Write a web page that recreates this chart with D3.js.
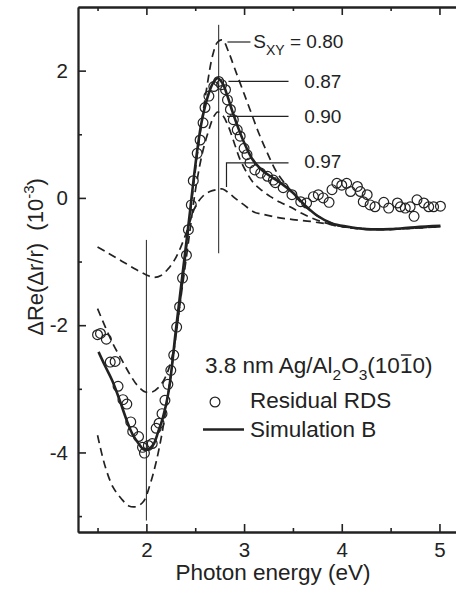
<!DOCTYPE html>
<html>
<head>
<meta charset="utf-8">
<script src="https://cdn.jsdelivr.net/npm/d3@7"></script>
<style>
  body { margin: 0; background: #fff; }
  svg text { font-family: "Liberation Sans", Arial, sans-serif; fill: #222; }
</style>
</head>
<body>
<div id="chart"></div>
<script>
// Residual RDS (open circles)
const energyRDS = [1.50,1.53,1.59,1.63,1.68,1.71,1.76,1.80,1.84,1.86,1.92,1.96,1.98,2.02,2.06,2.10,2.13,2.16,2.19,2.22,
  2.25,2.28,2.31,2.34,2.37,2.41,2.43,2.46,2.48,2.52,2.55,2.58,2.60,2.64,2.69,2.74,2.77,2.81,2.83,2.86,
  2.89,2.93,2.96,3.00,3.03,3.06,3.11,3.17,3.24,3.30,3.32,3.40,3.49,3.58,3.64,3.71,3.76,3.81,3.87,3.90,
  3.95,4.00,4.05,4.09,4.16,4.19,4.22,4.26,4.29,4.34,4.43,4.48,4.57,4.60,4.65,4.70,4.74,4.77,4.84,4.89,4.94,5.01];
const residualRDS = [-2.15,-2.13,-2.22,-2.58,-2.57,-2.96,-3.17,-3.24,-3.52,-3.67,-3.75,-3.92,-4.01,-3.89,-3.86,-3.62,-3.54,-3.39,-3.18,-2.93,
  -2.71,-2.47,-2.03,-1.71,-1.26,-0.90,-0.50,-0.11,0.27,0.70,0.91,1.18,1.42,1.60,1.75,1.83,1.78,1.70,1.54,1.39,
  1.23,1.07,0.97,0.78,0.68,0.55,0.44,0.39,0.34,0.28,0.24,0.16,0.05,-0.06,-0.08,0.02,0.05,0.00,-0.07,0.13,
  0.23,0.20,0.23,0.10,0.18,0.10,-0.06,0.05,-0.11,-0.14,-0.07,-0.16,-0.08,-0.14,-0.16,-0.14,-0.29,-0.03,-0.08,-0.14,-0.14,-0.13];

// Simulation B, S_XY = 0.87 (solid)
const energySim087 = [1.51,1.58,1.65,1.72,1.80,1.86,1.92,1.97,2.02,2.07,2.12,2.17,2.23,2.30,2.37,2.44,2.50,2.56,2.62,2.68,
  2.73,2.78,2.83,2.88,2.94,3.00,3.08,3.16,3.25,3.37,3.50,3.62,3.75,3.90,4.05,4.25,4.50,4.75,5.01];
const sim087 = [-2.42,-2.65,-2.87,-3.15,-3.50,-3.72,-3.86,-3.95,-3.95,-3.88,-3.68,-3.45,-3.02,-2.10,-1.20,-0.30,0.50,1.15,1.55,1.80,
  1.88,1.80,1.60,1.36,1.10,0.87,0.62,0.47,0.36,0.24,0.08,-0.11,-0.28,-0.40,-0.45,-0.49,-0.49,-0.46,-0.44];

// S_XY = 0.80 (dashed)
const energySim080 = [1.50,1.58,1.66,1.74,1.82,1.90,1.97,2.04,2.10,2.16,2.22,2.30,2.38,2.46,2.54,2.62,2.68,2.73,2.78,2.84,
  2.90,2.98,3.06,3.15,3.24,3.34,3.47,3.60,3.75,3.90,4.10,4.40,4.70,5.01];
const sim080 = [-3.73,-4.23,-4.55,-4.72,-4.84,-4.85,-4.77,-4.49,-4.15,-3.70,-3.10,-2.20,-1.20,-0.10,0.90,1.75,2.25,2.45,2.48,2.30,
  2.05,1.72,1.39,1.02,0.70,0.39,0.13,-0.10,-0.28,-0.40,-0.47,-0.50,-0.48,-0.45];

// S_XY = 0.90 (dashed)
const energySim090 = [1.50,1.58,1.66,1.75,1.83,1.91,1.99,2.06,2.13,2.20,2.27,2.35,2.43,2.51,2.58,2.64,2.69,2.73,2.78,2.84,
  2.90,2.96,3.03,3.10,3.18,3.27,3.37,3.47,3.60,3.75,3.90,4.10,4.40,4.70,5.01];
const sim090 = [-1.74,-2.03,-2.30,-2.55,-2.77,-2.95,-3.05,-3.05,-2.97,-2.80,-2.45,-1.60,-0.70,0.20,0.75,1.07,1.28,1.35,1.30,1.12,
  0.86,0.60,0.39,0.23,0.12,0.02,-0.07,-0.14,-0.25,-0.35,-0.42,-0.47,-0.49,-0.47,-0.45];

// S_XY = 0.97 (dashed)
const energySim097 = [1.50,1.60,1.70,1.80,1.90,2.00,2.08,2.15,2.22,2.29,2.35,2.42,2.50,2.58,2.65,2.72,2.78,2.85,2.92,3.00,
  3.10,3.20,3.35,3.50,3.68,3.85,4.00,4.20,4.50,4.80,5.01];
const sim097 = [-0.77,-0.86,-0.95,-1.04,-1.13,-1.21,-1.25,-1.22,-1.12,-0.97,-0.78,-0.50,-0.14,0.03,0.10,0.13,0.14,0.07,-0.02,-0.11,
  -0.22,-0.26,-0.31,-0.34,-0.37,-0.41,-0.45,-0.48,-0.49,-0.47,-0.45];

// vertical guide lines
const guideEnergy = [2.00, 2.74];
const guideTop = [-0.66, 2.72];
const guideBottom = [-5.07, -0.87];

const xTicks = [2, 3, 4, 5];
const xMinorTicks = [1.5, 2.5, 3.5, 4.5];
const yTicks = [-4, -2, 0, 2];
const yMinorTicks = [-5, -3, -1, 1];

const W = 456, H = 593;
const margin = { top: 7, right: -3, bottom: 61, left: 78 };
const ink = "#222";

const x = d3.scaleLinear().domain([1.3, 5.2]).range([margin.left, W - margin.right]);
const y = d3.scaleLinear().domain([-5.25, 3.0]).range([H - margin.bottom, margin.top]);

const svg = d3.select("#chart").append("svg")
  .attr("width", W)
  .attr("height", H);

const zip = (xs, ys) => xs.map((e, i) => [e, ys[i]]);
const line = d3.line()
  .x(d => x(d[0]))
  .y(d => y(d[1]))
  .curve(d3.curveCatmullRom.alpha(0.5));

// guide lines
guideEnergy.forEach((e, i) => {
  svg.append("line")
    .attr("x1", x(e)).attr("x2", x(e))
    .attr("y1", y(guideTop[i])).attr("y2", y(guideBottom[i]))
    .attr("stroke", ink).attr("stroke-width", 1);
});

// dashed simulations
[[energySim080, sim080], [energySim090, sim090], [energySim097, sim097]].forEach(s => {
  svg.append("path")
    .datum(zip(s[0], s[1]))
    .attr("d", line)
    .attr("fill", "none")
    .attr("stroke", ink)
    .attr("stroke-width", 1.7)
    .attr("stroke-dasharray", "8,5");
});

// residual RDS circles
svg.append("g")
  .selectAll("circle")
  .data(zip(energyRDS, residualRDS))
  .enter().append("circle")
  .attr("cx", d => x(d[0]))
  .attr("cy", d => y(d[1]))
  .attr("r", 4.9)
  .attr("fill", "none")
  .attr("stroke", ink)
  .attr("stroke-width", 1.2);

// Simulation B
svg.append("path")
  .datum(zip(energySim087, sim087))
  .attr("d", line)
  .attr("fill", "none")
  .attr("stroke", ink)
  .attr("stroke-width", 2.6);

// axes
const axisBottom = d3.axisBottom(x).tickValues(xTicks).tickSize(-8).tickSizeOuter(0).tickPadding(10).tickFormat(d3.format("d"));
const axisTop = d3.axisTop(x).tickValues(xTicks).tickSize(-8).tickSizeOuter(0).tickFormat("");
const axisLeft = d3.axisLeft(y).tickValues(yTicks).tickSize(-8).tickSizeOuter(0).tickPadding(10).tickFormat(d => d < 0 ? "-" + Math.abs(d) : d);

const gB = svg.append("g").attr("transform", "translate(0," + y.range()[0] + ")").call(axisBottom);
gB.append("g").call(d3.axisBottom(x).tickValues(xMinorTicks).tickSize(-4).tickSizeOuter(0).tickFormat(""));
const gT = svg.append("g").attr("transform", "translate(0," + y.range()[1] + ")").call(axisTop);
gT.append("g").call(d3.axisTop(x).tickValues(xMinorTicks).tickSize(-4).tickSizeOuter(0).tickFormat(""));
const gL = svg.append("g").attr("transform", "translate(" + x.range()[0] + ",0)").call(axisLeft);
gL.append("g").call(d3.axisLeft(y).tickValues(yMinorTicks).tickSize(-4).tickSizeOuter(0).tickFormat(""));

svg.selectAll(".domain").attr("stroke", ink).attr("stroke-width", 1.8);
svg.selectAll(".tick line").attr("stroke", ink).attr("stroke-width", 1.6);
svg.selectAll(".tick text").attr("font-size", 20.5).attr("font-family", "Liberation Sans, Arial, sans-serif").attr("fill", ink);

// axis titles
svg.append("text")
  .attr("x", 273).attr("y", 580)
  .attr("text-anchor", "middle")
  .attr("font-size", 22.5)
  .text("Photon energy (eV)");

const yTitle = svg.append("text")
  .attr("transform", "translate(43,257) rotate(-90)")
  .attr("text-anchor", "middle")
  .attr("font-size", 22);
yTitle.append("tspan").text("\u0394Re(\u0394r/r)\u00a0\u00a0(10");
yTitle.append("tspan").attr("font-size", 15).attr("dy", -9).text("-3");
yTitle.append("tspan").attr("dy", 9).text(")");

// S_XY pointers
const pointers = [
  [[2.83, 2.45], [3.065, 2.45]],
  [[2.84, 1.83], [3.455, 1.83]],
  [[2.826, 1.28], [3.455, 1.28]],
  [[2.82, 0.17], [2.82, 0.55], [3.455, 0.55]]
];
pointers.forEach(p => {
  svg.append("path")
    .datum(p)
    .attr("d", d3.line().x(d => x(d[0])).y(d => y(d[1])))
    .attr("fill", "none")
    .attr("stroke", ink)
    .attr("stroke-width", 1.2);
});

const sLabel = svg.append("text")
  .attr("x", x(3.095)).attr("y", y(2.36))
  .attr("font-size", 19);
sLabel.append("tspan").text("S");
sLabel.append("tspan").attr("font-size", 14).attr("dy", 7).text("XY");
sLabel.append("tspan").attr("dy", -7).text(" = 0.80");

[["0.87", 1.73], ["0.90", 1.18], ["0.97", 0.47]].forEach(l => {
  svg.append("text")
    .attr("x", x(3.617)).attr("y", y(l[1]))
    .attr("font-size", 19)
    .text(l[0]);
});

// legend
const title = svg.append("text")
  .attr("x", 205).attr("y", 373)
  .attr("font-size", 22.5);
title.append("tspan").text("3.8 nm Ag/Al");
title.append("tspan").attr("font-size", 15.5).attr("dy", 7).text("2");
title.append("tspan").attr("dy", -7).text("O");
title.append("tspan").attr("font-size", 15.5).attr("dy", 7).text("3");
title.append("tspan").attr("dy", -7).text("(10");
const bar1 = title.append("tspan").text("1");
title.append("tspan").text("0)");
const bx = bar1.node().getStartPositionOfChar(0).x;
const bw = bar1.node().getComputedTextLength();
svg.append("line")
  .attr("x1", bx + 1).attr("x2", bx + bw - 1)
  .attr("y1", 355).attr("y2", 355)
  .attr("stroke", ink).attr("stroke-width", 1.4);

svg.append("circle")
  .attr("cx", 215).attr("cy", 402).attr("r", 4.9)
  .attr("fill", "none").attr("stroke", ink).attr("stroke-width", 1.2);
svg.append("text").attr("x", 250).attr("y", 408).attr("font-size", 22.5).text("Residual RDS");

svg.append("line")
  .attr("x1", 203).attr("x2", 244).attr("y1", 429.5).attr("y2", 429.5)
  .attr("stroke", ink).attr("stroke-width", 2.6);
svg.append("text").attr("x", 250).attr("y", 437).attr("font-size", 22.5).text("Simulation B");
</script>
</body>
</html>
